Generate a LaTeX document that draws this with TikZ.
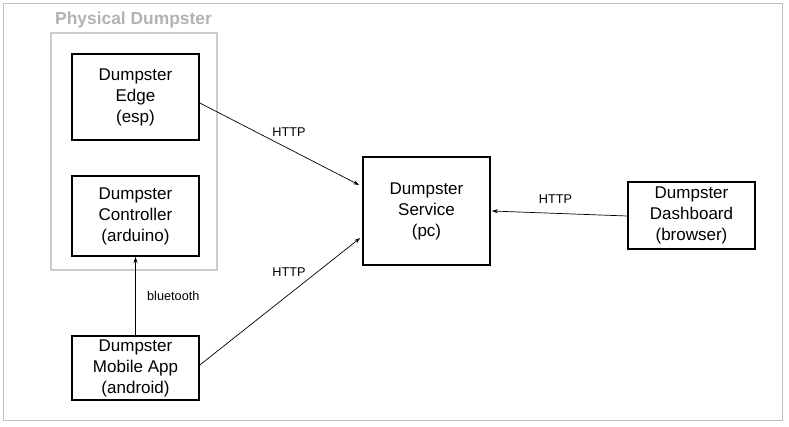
\documentclass[tikz,border=0pt]{standalone}
\usepackage{fontspec}
\setmainfont{Liberation Sans}
\usetikzlibrary{arrows.meta,calc}
\begin{document}
\begin{tikzpicture}[x=1pt,y=-1pt,
  box/.style={draw=black,line width=1.6pt,inner sep=0pt,align=center,font=\fontsize{17}{21}\selectfont},
  conn/.style={draw=black,line width=0.7pt,-{Stealth[length=6pt,width=4pt]}},
  lbl/.style={font=\fontsize{12.7}{14}\selectfont}]
\useasboundingbox (0,0) rectangle (789,427);
\draw[draw=black!25,line width=0.8pt] (3,3) rectangle (782,420);
\draw[draw=black!20,line width=1.6pt] (51,33) rectangle (217,270);
\node[font=\bfseries\fontsize{17.4}{19}\selectfont,text=black!30,anchor=center] (title) at (133.5,20) {Physical Dumpster};
\node[box,minimum width=127pt,minimum height=86pt] (edge) at (135.5,97) {Dumpster\\Edge\\(esp)};
\node[box,minimum width=127pt,minimum height=80pt] (ctrl) at (135.5,216) {Dumpster\\Controller\\(arduino)};
\node[box,minimum width=127pt,minimum height=64pt] (app) at (135.5,368) {Dumpster\\Mobile App\\(android)};
\node[box,minimum width=127pt,minimum height=108pt] (svc) at (426.5,211) {Dumpster\\Service\\(pc)};
\node[box,minimum width=127pt,minimum height=67pt] (dash) at (691.5,215.5) {Dumpster\\Dashboard\\(browser)};
\draw[conn] ([yshift=-6pt]edge.east) -- ([yshift=26pt,xshift=-3pt]svc.west) node[lbl,pos=0.56,above=9pt] {HTTP};
\draw[conn] ([yshift=3pt]app.east) -- ([yshift=-27pt,xshift=-2pt]svc.west) node[lbl,pos=0.556,above=14pt] {HTTP};
\draw[conn] ([yshift=-0.5pt]dash.west) -- ([xshift=1pt,yshift=0pt]svc.east) node[lbl,pos=0.53,above=6pt] {HTTP};
\draw[conn] (app.north) -- (ctrl.south) node[lbl,pos=0.5,right=8pt] {bluetooth};
\end{tikzpicture}
\end{document}
